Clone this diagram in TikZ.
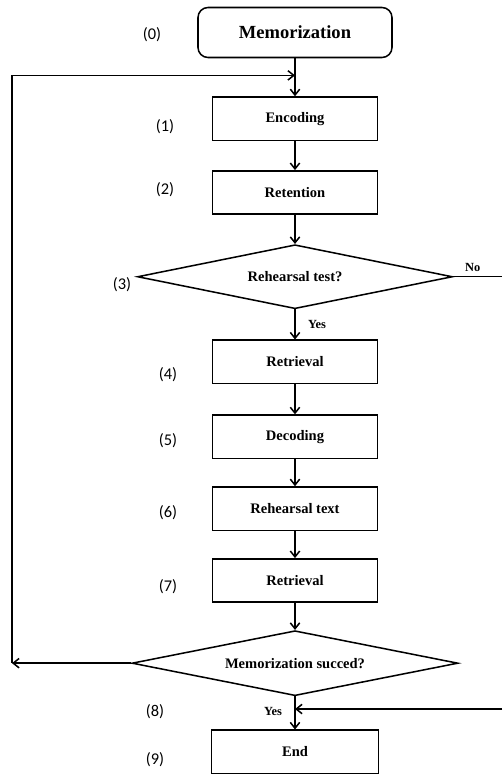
\documentclass[tikz,border=0pt]{standalone}
\usepackage{fontspec}
\setmainfont{Liberation Serif}
\newfontfamily\numfont{Carlito}
\usepackage{tikz}
\usetikzlibrary{shapes.geometric, arrows.meta, positioning, calc}
\tikzstyle{startbox} = [rectangle, rounded corners=0.3cm, minimum width=5.82cm, minimum height=1.5cm, text centered, draw=black, line width=1.3pt, font=\fontsize{15.8}{18}\selectfont\bfseries]
\tikzstyle{process} = [rectangle, minimum width=4.95cm, minimum height=1.3cm, text centered, draw=black, line width=1.3pt, font=\fontsize{12.4}{14}\selectfont\bfseries]
\tikzstyle{decision} = [diamond, aspect=5, inner sep=0pt, text centered, draw=black, line width=1.3pt, font=\fontsize{12.4}{14}\selectfont\bfseries]
\tikzstyle{steplabel} = [font=\numfont\fontsize{14}{16}\selectfont]
\tikzstyle{answer} = [font=\fontsize{10.6}{12}\selectfont\bfseries]
\tikzstyle{arrow} = [line width=1.3pt, -{Straight Barb[length=5pt, width=8pt]}]
\tikzstyle{line} = [line width=1.3pt]

\begin{document}
\begin{tikzpicture}
    \useasboundingbox (0,0) rectangle (15.06,-23.25);

    % Inicio
    \node (mem) [startbox] at (8.85,-0.975) {Memorization};

    % Pasos
    \node (enc) [process, below=1.14cm of mem] {Encoding};
    \node (ret) [process, below=0.87cm of enc] {Retention};
    \node (test) [decision, minimum width=9.45cm, minimum height=1.92cm, below=0.87cm of ret] {Rehearsal test?};
    \node (retr) [process, below=0.9cm of test] {Retrieval};
    \node (dec) [process, below=0.9cm of retr] {Decoding};
    \node (reh) [process, below=0.81cm of dec] {Rehearsal text};
    \node (retrb) [process, below=0.81cm of reh] {Retrieval};
    \node (succ) [decision, minimum width=9.78cm, minimum height=1.95cm, below=0.81cm of retrb] {Memorization succed?};
    \node (end) [process, minimum width=5.0cm, below=0.99cm of succ] {End};

    % Numeros
    \node [steplabel] at (4.56,-1.05) {(0)};
    \node [steplabel] at (4.95,-3.81) {(1)};
    \node [steplabel] at (4.95,-5.70) {(2)};
    \node [steplabel] at (3.66,-8.55) {(3)};
    \node [steplabel] at (5.04,-11.25) {(4)};
    \node [steplabel] at (5.04,-13.23) {(5)};
    \node [steplabel] at (5.04,-15.39) {(6)};
    \node [steplabel] at (5.04,-17.61) {(7)};
    \node [steplabel] at (4.65,-21.36) {(8)};
    \node [steplabel] at (4.65,-22.80) {(9)};

    % Puntos auxiliares
    \coordinate (loopin) at ($(mem.south)!0.45!(enc.north)$);
    \coordinate (loopcorner) at (0.36,0 |- succ.west);
    \coordinate (noout) at (15.06,0 |- test.east);
    \coordinate (backin) at (15.06,-21.27);
    \coordinate (backjoin) at (succ.south |- backin);

    % Flechas
    \draw [arrow] (mem) -- (enc);
    \draw [arrow] (enc) -- (ret);
    \draw [arrow] (ret) -- (test);
    \draw [arrow] (test) -- node [answer, right=0.25cm, pos=0.5] {Yes} (retr);
    \draw [line] (test.east) -- node [answer, above=0pt, pos=0.4] {No} (noout);
    \draw [arrow] (retr) -- (dec);
    \draw [arrow] (dec) -- (reh);
    \draw [arrow] (reh) -- (retrb);
    \draw [arrow] (retrb) -- (succ);
    \draw [arrow] (succ) -- node [answer, left=0.25cm, pos=0.45] {Yes} (end);

    % Retorno
    \draw [arrow] (succ.west) -- (loopcorner);
    \draw [arrow] (loopcorner) |- (loopin);
    \draw [arrow] (backin) -- (backjoin);

\end{tikzpicture}
\end{document}
